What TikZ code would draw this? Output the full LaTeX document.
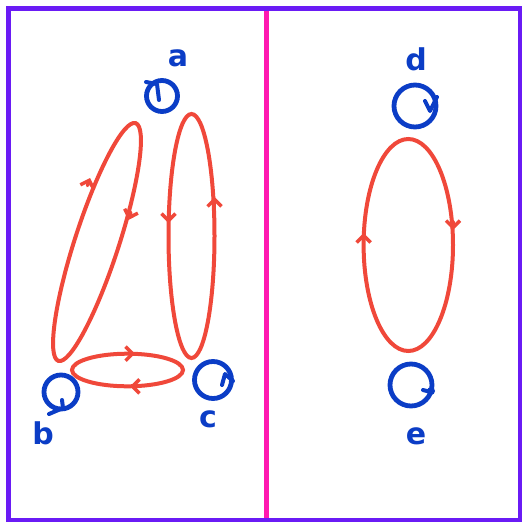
\documentclass[tikz,border=0pt]{standalone}
\usepackage{fontspec}
\newfontfamily\handfont{DejaVu Sans}
\usetikzlibrary{arrows.meta}
\definecolor{framepurple}{HTML}{6A1BF5}
\definecolor{divpink}{HTML}{FF19B0}
\definecolor{nodeblue}{HTML}{0B3DC6}
\definecolor{cycred}{HTML}{F0483A}
\tikzset{
  vtx/.style={circle,draw=nodeblue,line width=4.8pt,inner sep=0pt},
  tick/.style={nodeblue,line width=4pt,line cap=round,line join=round},
  lbl/.style={text=nodeblue,font=\handfont\bfseries\fontsize{30}{30}\selectfont,inner sep=0pt},
  cyc/.style={draw=cycred,line width=4pt},
  cycarr/.style={cycred,line width=3.5pt,line cap=round,-{Straight Barb[length=7pt,width=14pt]}},
}
\begin{document}
\begin{tikzpicture}[x=1pt,y=-1pt]
\useasboundingbox (0,0) rectangle (522,522);
\fill[white] (0,0) rectangle (522,522);
% divider and frame
\draw[divpink,line width=5pt] (266,10) -- (266,518);
\draw[framepurple,line width=4.8pt] (8.5,8.5) rectangle (520.5,520.2);
% vertices with self loops
\node[vtx,minimum size=31pt] (a) at (162,96) {};
\node[vtx,minimum size=34pt] (b) at (61,392) {};
\node[vtx,minimum size=37pt] (c) at (213,380) {};
\node[vtx,minimum size=42pt] (d) at (415,106) {};
\node[vtx,minimum size=42pt] (e) at (411,385) {};
\draw[tick] (146,82) -- (157,84) -- (159,100);
\draw[tick] (49,414) -- (63,408) -- (62,400);
\draw[tick] (222,385) -- (225,374) -- (233,381);
\draw[tick] (425,101) -- (430,111) -- (437,97);
\draw[tick] (423,390) -- (431,392);
\fill[nodeblue] (431,391) circle (4);
% labels
\node[lbl] (la) at (178,58) {a};
\node[lbl] (lb) at (43,433) {b};
\node[lbl] (lc) at (208,419) {c};
\node[lbl] (ld) at (416,59) {d};
\node[lbl] (le) at (416,436) {e};
% cycles between the vertices
\draw[cyc,rotate around={72:(97,242)}] (97,242) ellipse [x radius=125, y radius=22];
\draw[cyc] (191.5,236) ellipse [x radius=23, y radius=122];
\draw[cyc] (127.5,370) ellipse [x radius=55.5, y radius=16.3];
\draw[cyc] (408.3,245) ellipse [x radius=44.7, y radius=106];
% arrow marks on the cycles
\draw[cycarr] (87.5,185.6) -- (90,178);
\draw[cycarr] (130.8,212.4) -- (128.3,220);
\draw[cycarr] (168.5,215) -- (168.5,223);
\draw[cycarr] (214.5,205) -- (214.5,197);
\draw[cycarr] (127,353.7) -- (135,353.7);
\draw[cycarr] (138,386.3) -- (130,386.3);
\draw[cycarr] (363.6,241) -- (363.6,233);
\draw[cycarr] (453,222) -- (453,230);
\end{tikzpicture}
\end{document}
